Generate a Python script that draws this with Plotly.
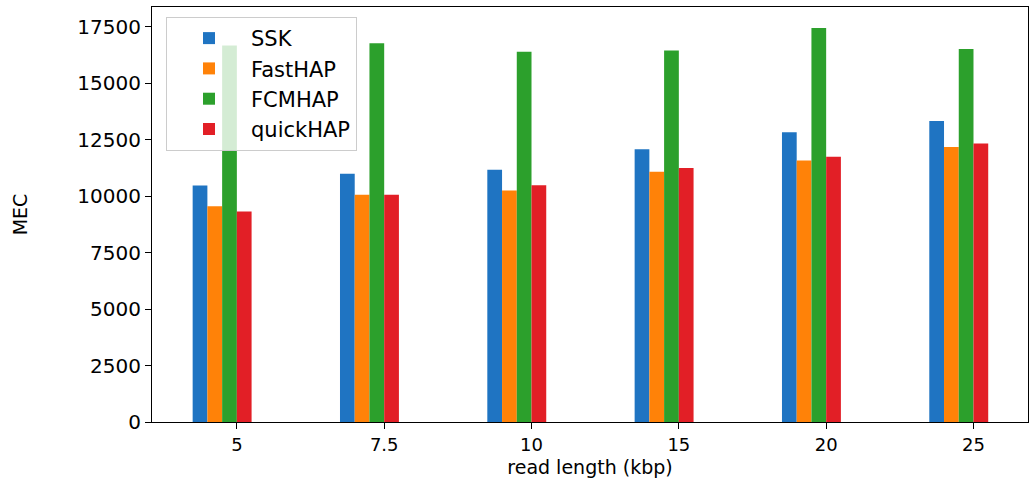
import plotly.graph_objects as go

categories = ["5", "7.5", "10", "15", "20", "25"]
series_names = ["SSK", "FastHAP", "FCMHAP", "quickHAP"]
ssk = [10470, 10990, 11170, 12080, 12830, 13330]
fasthap = [9550, 10070, 10250, 11080, 11580, 12180]
fcmhap = [16670, 16780, 16400, 16450, 17450, 16520]
quickhap = [9320, 10070, 10480, 11250, 11750, 12330]
y_ticks = [0, 2500, 5000, 7500, 10000, 12500, 15000, 17500]

colors = ["#1f74c2", "#ff8208", "#2ca02c", "#e21f26"]
offsets = [-0.3, -0.2, -0.1, 0.0]
positions = list(range(len(categories)))

fig = go.Figure()
for name, vals, col, off in zip(series_names, [ssk, fasthap, fcmhap, quickhap], colors, offsets):
    fig.add_trace(go.Bar(
        x=positions, y=vals, name=name, width=0.1, offset=off,
        marker=dict(color=col, line=dict(width=0)),
    ))

font = "DejaVu Sans, sans-serif"
fig.update_layout(
    width=1030, height=489,
    margin=dict(l=152, r=2, t=7, b=67),
    barmode="overlay",
    plot_bgcolor="white", paper_bgcolor="white",
    font=dict(family=font, size=18, color="black"),
    showlegend=True,
    legend=dict(
        x=0.016, y=0.976, xanchor="left", yanchor="top",
        bgcolor="rgba(255,255,255,0.8)", bordercolor="#cccccc", borderwidth=1,
        font=dict(size=21, family=font), tracegroupgap=0, itemwidth=74,
    ),
    xaxis=dict(
        range=[-0.576, 5.37], tickvals=positions, ticktext=categories,
        showline=True, linecolor="black", linewidth=1.2, mirror=True,
        ticks="outside", ticklen=6, tickcolor="black", showgrid=False, zeroline=False,
        title=dict(text="read length (kbp)", font=dict(size=19), standoff=6),
        tickfont=dict(size=18),
    ),
    yaxis=dict(
        range=[0, 18380], tickvals=y_ticks, ticktext=[str(v) for v in y_ticks],
        showline=True, linecolor="black", linewidth=1.2, mirror=True,
        ticks="outside", ticklen=6, tickcolor="black", showgrid=False, zeroline=False,
        title=dict(text="MEC", font=dict(size=19), standoff=44),
        tickfont=dict(size=20),
    ),
)

fig.write_html(
    "out.html",
    config={"displayModeBar": False},
    post_script="document.body.style.margin='0px';document.body.style.overflow='hidden';",
)
